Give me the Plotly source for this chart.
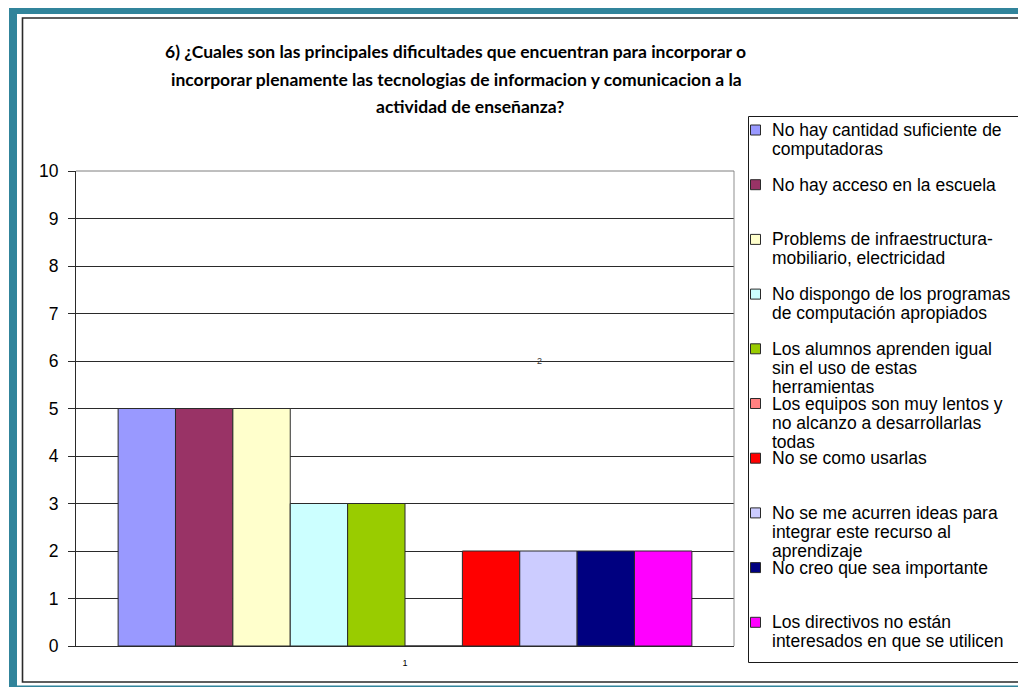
import plotly.graph_objects as go

# ---------------- data ----------------
categories = ["1"]
title_lines = [
    "6) ¿Cuales son las principales dificultades que encuentran para incorporar o",
    "incorporar plenamente las tecnologias de informacion y comunicacion a la",
    "actividad de enseñanza?",
]
legend_lines = [
    ["No hay cantidad suficiente de", "computadoras"],
    ["No hay acceso en la escuela"],
    ["Problems de infraestructura-", "mobiliario, electricidad"],
    ["No dispongo de los programas", "de computación apropiados"],
    ["Los alumnos aprenden igual", "sin el uso de estas", "herramientas"],
    ["Los equipos son muy lentos y", "no alcanzo a desarrollarlas", "todas"],
    ["No se como usarlas"],
    ["No se me acurren ideas para", "integrar este recurso al", "aprendizaje"],
    ["No creo que sea importante"],
    ["Los directivos no están", "interesados en que se utilicen"],
]
values = [5, 5, 5, 3, 3, 0, 2, 2, 2, 2]
colors = ["#9999FF", "#993366", "#FFFFCC", "#CCFFFF", "#99CC00",
          "#FF8080", "#FF0000", "#CCCCFF", "#000080", "#FF00FF"]
stray_label = "2"

# ---------------- geometry helpers ----------------
# the page body adds an 8px offset, so the figure is laid out in screen coords
OFF = 8
W, H = 1026 - OFF, 687 - OFF
PL, PR, PT, PB = 76, 734, 171, 646          # plot area in screen pixels
ML, MT = PL - OFF, PT - OFF
MR, MB = W - (PR - OFF), H - (PB - OFF)
PW, PH = PR - PL, PB - PT


def px(x):
    return (x - PL) / PW


def py(y):
    return (PB - y) / PH


TEAL = "#31849B"
ARIAL = "Arial, Liberation Sans, sans-serif"

fig = go.Figure()
for lines, v, c in zip(legend_lines, values, colors):
    fig.add_trace(go.Bar(
        x=categories, y=[v], name=" ".join(lines),
        marker=dict(color=c, line=dict(color="#2a2a2a", width=1)),
        showlegend=False,
    ))

shapes = []
# outer teal frame
shapes.append(dict(type="rect", xref="paper", yref="paper", x0=px(9), x1=px(1040),
                   y0=py(14), y1=py(0), fillcolor=TEAL, line=dict(width=0), layer="below"))
shapes.append(dict(type="rect", xref="paper", yref="paper", x0=px(9), x1=px(17),
                   y0=py(700), y1=py(0), fillcolor=TEAL, line=dict(width=0), layer="below"))
shapes.append(dict(type="rect", xref="paper", yref="paper", x0=px(9), x1=px(1040),
                   y0=py(700), y1=py(685.5), fillcolor=TEAL, line=dict(width=0), layer="below"))
# dark chart border
shapes.append(dict(type="rect", xref="paper", yref="paper", x0=px(22.5), x1=px(1040),
                   y0=py(682), y1=py(18), line=dict(color="#2a2a2a", width=1.6),
                   fillcolor="rgba(0,0,0,0)", layer="below"))
# plot-area right / top border (gray)
shapes.append(dict(type="line", xref="paper", yref="paper", x0=1, x1=1, y0=0, y1=1,
                   line=dict(color="#8f8f8f", width=1)))
shapes.append(dict(type="line", xref="paper", yref="paper", x0=0, x1=1, y0=1, y1=1,
                   line=dict(color="#7f7f7f", width=1)))

# manual legend (Excel style spacing)
LEG_L, LEG_R, LEG_T, LEG_B = 748.5, 1022.5, 116.5, 662.5
shapes.append(dict(type="rect", xref="paper", yref="paper", x0=px(LEG_L), x1=px(LEG_R),
                   y0=py(LEG_B), y1=py(LEG_T), line=dict(color="#1a1a1a", width=1),
                   fillcolor="white"))
annotations = []
slot = 54.7
for k, (lines, c) in enumerate(zip(legend_lines, colors)):
    cy = 130 + slot * k
    shapes.append(dict(type="rect", xref="paper", yref="paper",
                       x0=px(750.5), x1=px(760.5), y0=py(cy + 5), y1=py(cy - 5),
                       fillcolor=c, line=dict(color="#2a2a2a", width=1)))
    for j, t in enumerate(lines):
        annotations.append(dict(text=t, xref="paper", yref="paper", x=px(770),
                                y=py(cy + 19 * j), xanchor="left", yanchor="middle",
                                showarrow=False,
                                font=dict(family=ARIAL, size=17.5, color="black")))

# title lines
title_centers = [455, 456, 470]
for j, (t, cx) in enumerate(zip(title_lines, title_centers)):
    annotations.append(dict(text=t, xref="paper", yref="paper", x=px(cx),
                            y=py(52 + 27 * j), xanchor="center", yanchor="middle",
                            showarrow=False,
                            font=dict(family="Lato, sans-serif", size=17.5,
                                      color="black", weight="bold")))

# stray label inside the plot
annotations.append(dict(text=stray_label, xref="paper", yref="y", x=px(539), y=6,
                        xanchor="center", yanchor="middle", showarrow=False,
                        font=dict(family=ARIAL, size=9, color="#333333")))

fig.update_layout(
    width=W, height=H,
    margin=dict(l=ML, r=MR, t=MT, b=MB, pad=0),
    paper_bgcolor="white", plot_bgcolor="white",
    barmode="group", bargap=0.128, bargroupgap=0,
    showlegend=False,
    shapes=shapes, annotations=annotations,
    xaxis=dict(type="category", range=[-0.5, 0.5], showgrid=False,
               showline=True, linecolor="#2a2a2a", linewidth=1, ticks="",
               tickfont=dict(family=ARIAL, size=9, color="black"),
               ticklabelstandoff=8, fixedrange=True),
    yaxis=dict(range=[0, 10], dtick=1, tick0=0, showgrid=True, gridcolor="#2a2a2a",
               gridwidth=1, zeroline=False, showline=True, linecolor="#2a2a2a",
               linewidth=1, ticks="outside", ticklen=7, tickcolor="#2a2a2a",
               tickfont=dict(family=ARIAL, size=17.5, color="black"),
               ticklabelstandoff=6, fixedrange=True),
)

fig.write_html("out.html")
